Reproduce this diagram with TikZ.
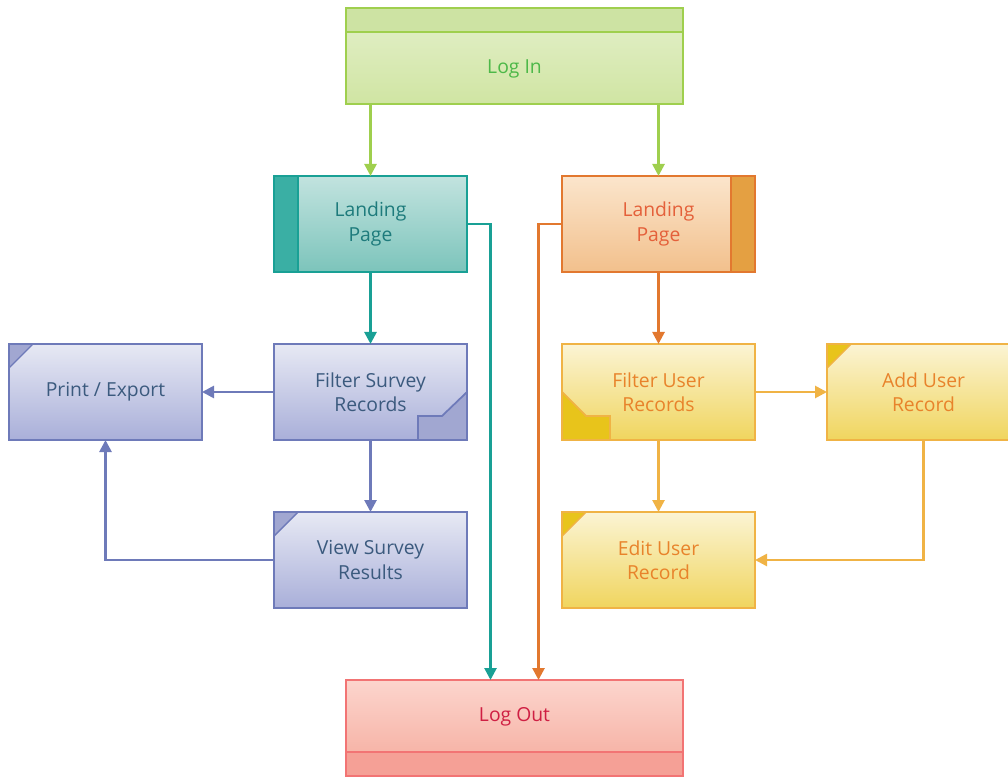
\documentclass[tikz,border=0pt]{standalone}
\usepackage{fontspec}
\setmainfont{Open Sans}
\usepackage{tikz}
\usetikzlibrary{positioning,arrows.meta}
\definecolor{logindraw}{HTML}{9FCF4E}
\definecolor{loginband}{HTML}{CDE3A3}
\definecolor{logintop}{HTML}{E4F0CB}
\definecolor{loginbot}{HTML}{D0E5A3}
\definecolor{logintext}{HTML}{4DB848}
\definecolor{tealdraw}{HTML}{19A095}
\definecolor{tealstrip}{HTML}{3AAFA4}
\definecolor{tealtop}{HTML}{C2E3DF}
\definecolor{tealbot}{HTML}{7CC4BB}
\definecolor{tealtext}{HTML}{1E7B7C}
\definecolor{orangedraw}{HTML}{E2782F}
\definecolor{orangestrip}{HTML}{E4A042}
\definecolor{orangetop}{HTML}{FBE5CC}
\definecolor{orangebot}{HTML}{F2C08C}
\definecolor{orangetext}{HTML}{E4603A}
\definecolor{bluedraw}{HTML}{6E7AB9}
\definecolor{bluecorner}{HTML}{A1A7D1}
\definecolor{bluetop}{HTML}{E7E9F4}
\definecolor{bluebot}{HTML}{A9AFD9}
\definecolor{bluetext}{HTML}{3B5A7E}
\definecolor{yellowdraw}{HTML}{F0B345}
\definecolor{yellowcorner}{HTML}{E8C41B}
\definecolor{yellowtop}{HTML}{FBF4D4}
\definecolor{yellowbot}{HTML}{F0D55E}
\definecolor{yellowtext}{HTML}{E8832B}
\definecolor{logoutdraw}{HTML}{F27474}
\definecolor{logoutband}{HTML}{F5A096}
\definecolor{logouttop}{HTML}{FCD5CD}
\definecolor{logoutbot}{HTML}{F5AA9C}
\definecolor{logouttext}{HTML}{CF1F43}
\tikzset{
  corner/.style 2 args={path picture={\filldraw[fill=#1, draw=#2, line width=0.8pt] (path picture bounding box.north west) -- ++(0.48,0) -- ++(-0.48,-0.48) -- cycle;}},
}
\begin{document}
\begin{tikzpicture}[node distance=1.44cm]
			\tikzstyle{box} = [rectangle, draw, line width=1.5pt, outer sep=0pt, align=center, minimum height=1.92cm, minimum width=3.86cm, font=\fontsize{11}{13.8}\selectfont];
			\tikzstyle{link} = [line width=1.5pt, -{Triangle[width=0.24cm,length=0.24cm]}];
			\tikzstyle{bluebox} = [box, draw=bluedraw, top color=bluetop, bottom color=bluebot, text=bluetext];
			\tikzstyle{yellowbox} = [box, draw=yellowdraw, top color=yellowtop, bottom color=yellowbot, text=yellowtext];
			\useasboundingbox (0,0) rectangle (20.16,-15.54);
			\clip (0,0) rectangle (20.16,-15.54);
			% top and bottom
			\node (login) [box, minimum width=6.74cm, draw=logindraw, top color=logintop, bottom color=loginbot, text=logintext, text height=0.78cm, text depth=0.08cm,
				path picture={\fill[loginband] (path picture bounding box.north west) rectangle ([yshift=-0.48cm]path picture bounding box.north east);
					\draw[logindraw, line width=1.5pt] ([yshift=-0.48cm]path picture bounding box.north west) -- ([yshift=-0.48cm]path picture bounding box.north east);}] at (10.29,-1.12) {Log In};
			% left branch
			\node (landA) [box, below=of login, xshift=-2.88cm, draw=tealdraw, top color=tealtop, bottom color=tealbot, text=tealtext,
				path picture={\fill[tealstrip] (path picture bounding box.north west) rectangle ([xshift=0.48cm]path picture bounding box.south west);
					\draw[tealdraw, line width=1.5pt] ([xshift=0.48cm]path picture bounding box.north west) -- ([xshift=0.48cm]path picture bounding box.south west);}] {Landing\\Page};
			\node (filterS) [bluebox, below=of landA,
				path picture={\filldraw[fill=bluecorner, draw=bluedraw, line width=1pt] (path picture bounding box.south east) -- ++(-0.98,0) -- ++(0,0.48) -- ++(0.48,0) -- ++(0.5,0.48) -- cycle;}] {Filter Survey\\Records};
			\node (print) [bluebox, corner={bluecorner}{bluedraw}, left=of filterS] {Print / Export};
			\node (viewS) [bluebox, corner={bluecorner}{bluedraw}, below=of filterS] {View Survey\\Results};
			% right branch
			\node (landB) [box, below=of login, xshift=2.88cm, draw=orangedraw, top color=orangetop, bottom color=orangebot, text=orangetext,
				path picture={\fill[orangestrip] (path picture bounding box.north east) rectangle ([xshift=-0.48cm]path picture bounding box.south east);
					\draw[orangedraw, line width=1.5pt] ([xshift=-0.48cm]path picture bounding box.north east) -- ([xshift=-0.48cm]path picture bounding box.south east);}] {Landing\\Page};
			\node (filterU) [yellowbox, below=of landB,
				path picture={\filldraw[fill=yellowcorner, draw=yellowdraw, line width=1pt] (path picture bounding box.south west) -- ++(0,0.96) -- ++(0.48,-0.48) -- ++(0.48,0) -- ++(0,-0.48) -- cycle;}] {Filter User\\Records};
			\node (addU) [yellowbox, corner={yellowcorner}{yellowdraw}, right=of filterU] {Add User\\Record};
			\node (editU) [yellowbox, corner={yellowcorner}{yellowdraw}, below=of filterU] {Edit User\\Record};
			\node (logout) [box, minimum width=6.74cm, below=of viewS, xshift=2.88cm, draw=logoutdraw, top color=logouttop, bottom color=logoutbot, text=logouttext, text height=0.3cm, text depth=0.56cm,
				path picture={\fill[logoutband] (path picture bounding box.south west) rectangle ([yshift=0.48cm]path picture bounding box.south east);
					\draw[logoutdraw, line width=1.5pt] ([yshift=0.48cm]path picture bounding box.south west) -- ([yshift=0.48cm]path picture bounding box.south east);}] {Log Out};
			% connectors
			\draw [link, logindraw] (login.south -| landA) -- (landA.north);
			\draw [link, logindraw] (login.south -| landB) -- (landB.north);
			\draw [link, tealdraw] (landA.east) -| ([xshift=-0.48cm]logout.north);
			\draw [link, orangedraw] (landB.west) -| ([xshift=0.48cm]logout.north);
			\draw [link, tealdraw] (landA) -- (filterS);
			\draw [link, bluedraw] (filterS) -- (print);
			\draw [link, bluedraw] (filterS) -- (viewS);
			\draw [link, bluedraw] (viewS.west) -| (print.south);
			\draw [link, orangedraw] (landB) -- (filterU);
			\draw [link, yellowdraw] (filterU) -- (addU);
			\draw [link, yellowdraw] (filterU) -- (editU);
			\draw [link, yellowdraw] (addU.south) |- (editU.east);
		\end{tikzpicture}
\end{document}
